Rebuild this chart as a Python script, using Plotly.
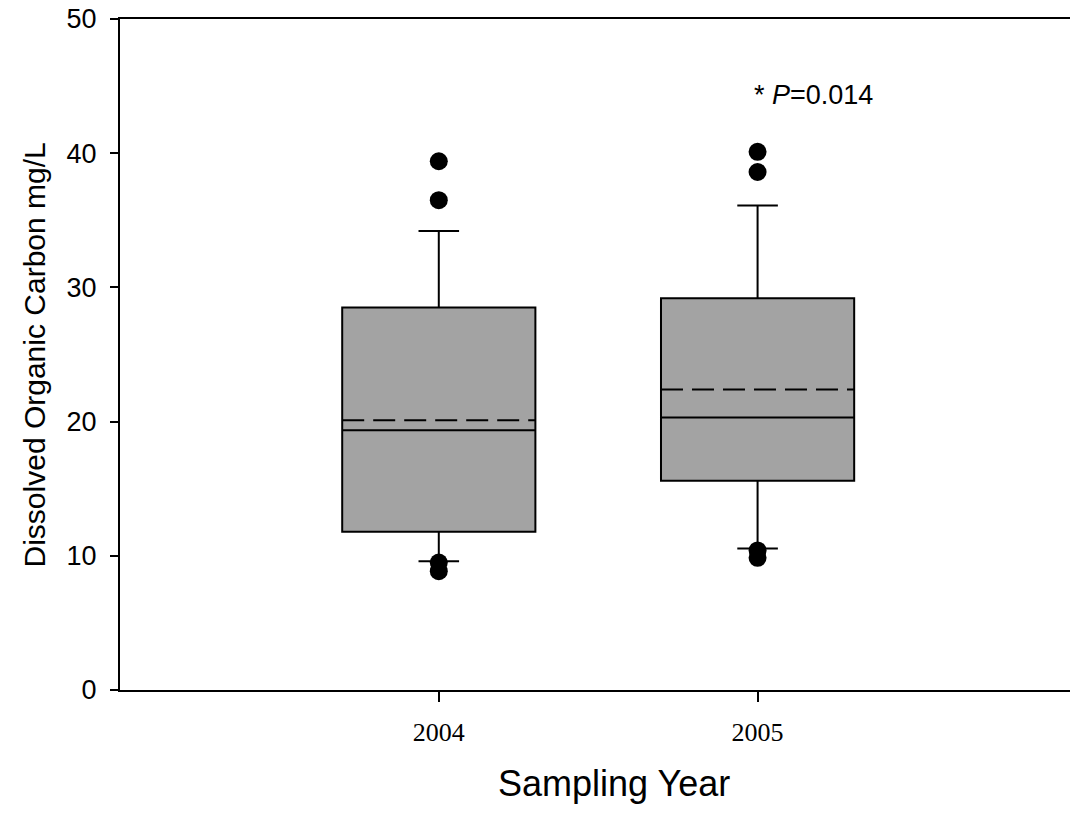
import plotly.graph_objects as go

# Summary statistics of dissolved organic carbon (mg/L) per sampling year
years = ["2004", "2005"]
q1 = [11.8, 15.6]
median = [19.35, 20.3]
q3 = [28.5, 29.2]
mean = [20.1, 22.4]
lower_whisker = [9.6, 10.55]
upper_whisker = [34.2, 36.1]

# Points lying beyond the whiskers
outlier_years = ["2004", "2004", "2004", "2004", "2005", "2005", "2005", "2005"]
outlier_values = [39.4, 36.5, 9.5, 8.85, 40.1, 38.6, 10.4, 9.85]

BOX_WIDTH = 0.606
pos = {y: i for i, y in enumerate(years)}

fig = go.Figure()

fig.add_trace(go.Box(
    x=[pos[y] for y in years],
    q1=q1,
    median=median,
    q3=q3,
    lowerfence=lower_whisker,
    upperfence=upper_whisker,
    boxpoints=False,
    width=BOX_WIDTH,
    whiskerwidth=0.21,
    fillcolor="#a3a3a3",
    line=dict(color="black", width=2),
    showlegend=False,
    hoverinfo="skip",
))

# Dashed mean line across each box
for y, m in zip(years, mean):
    i = pos[y]
    fig.add_trace(go.Scatter(
        x=[i - BOX_WIDTH / 2, i + BOX_WIDTH / 2],
        y=[m, m],
        mode="lines",
        line=dict(color="black", width=2, dash="22px,9px"),
        showlegend=False,
        hoverinfo="skip",
    ))

fig.add_trace(go.Scatter(
    x=[pos[y] for y in outlier_years],
    y=outlier_values,
    mode="markers",
    marker=dict(color="black", size=18, line=dict(width=0)),
    showlegend=False,
    hoverinfo="skip",
))

fig.add_annotation(
    x=pos["2005"], y=44.3, xref="x", yref="y",
    text="* <i>P</i>=0.014",
    showarrow=False,
    xanchor="left", xshift=-6,
    font=dict(family="Liberation Sans, Arial", size=27, color="black"),
)

# Axis titles
fig.add_annotation(
    x=0.52, y=-0.14, xref="paper", yref="paper",
    text="Sampling Year", showarrow=False,
    xanchor="center", yanchor="middle",
    font=dict(size=36, color="black"),
)
fig.add_annotation(
    x=-0.0895, y=0.5, xref="paper", yref="paper",
    text="Dissolved Organic Carbon mg/L", showarrow=False,
    textangle=-90, xanchor="center", yanchor="middle",
    font=dict(size=30, color="black"),
)

fig.update_layout(
    width=1070, height=815,
    margin=dict(l=120, r=0, t=19, b=125),
    plot_bgcolor="white",
    paper_bgcolor="white",
    font=dict(family="Liberation Sans, Arial", color="black"),
)

fig.update_xaxes(
    range=[-1, 1.98],
    tickvals=[pos[y] for y in years],
    ticktext=years,
    showline=True, mirror=True, linecolor="black", linewidth=2,
    ticks="outside", ticklen=10, tickwidth=2, tickcolor="black",
    showgrid=False, zeroline=False,
    tickfont=dict(family="Liberation Serif, Times New Roman", size=26),
    ticklabelstandoff=8,
)

fig.update_yaxes(
    range=[0, 50],
    tickvals=[0, 10, 20, 30, 40, 50],
    showline=True, linecolor="black", linewidth=2,
    ticks="outside", ticklen=8, tickwidth=2, tickcolor="black",
    showgrid=False, zeroline=False,
    tickfont=dict(size=27),
    ticklabelstandoff=8,
)

fig.write_html("out.html")
